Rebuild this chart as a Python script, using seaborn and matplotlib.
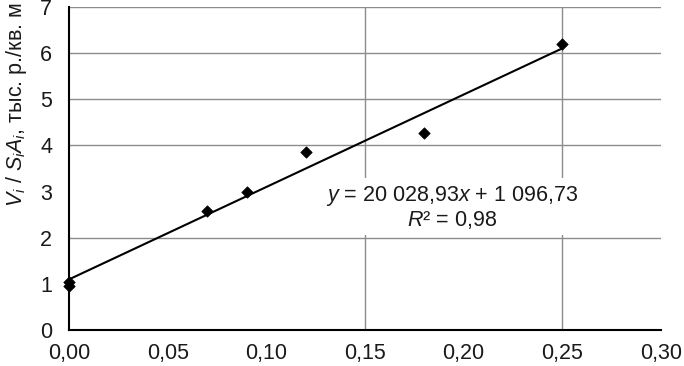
import numpy as np
import pandas as pd
import seaborn as sns
import matplotlib.pyplot as plt

#%% data
x_share = [0.0, 0.0, 0.07, 0.09, 0.12, 0.18, 0.25]
cost_per_m2 = [1.03, 0.95, 2.57, 2.99, 3.86, 4.28, 6.19]

# trendline as printed on the chart (thousands of roubles)
slope = 20.02893
intercept = 1.09673
trend_x = [0.0, 0.25]

x_ticks = [0.0, 0.05, 0.10, 0.15, 0.20, 0.25, 0.30]
x_ticklabels = ["0,00", "0,05", "0,10", "0,15", "0,20", "0,25", "0,30"]
y_ticks = [0, 1, 2, 3, 4, 5, 6, 7]
# only these grid lines survive in the original
grid_y = [2, 4, 5, 6, 7]
grid_x = [0.15, 0.25]

eq_text = r"$\it{y}$ = 20 028,93$\it{x}$ + 1 096,73"
r2_text = r"$\it{R}$² = 0,98"
ylabel = r"$\it{V_i}$ / $\it{S_iA_i}$, тыс. р./кв. м"

df = pd.DataFrame({"x": x_share, "y": cost_per_m2})
trend = pd.DataFrame({"x": trend_x, "y": [intercept + slope * v for v in trend_x]})

#%% style
sns.set_style("white")
plt.rcParams["font.family"] = ["Liberation Sans", "DejaVu Sans"]
plt.rcParams["mathtext.fontset"] = "custom"
plt.rcParams["mathtext.rm"] = "Liberation Sans"
plt.rcParams["mathtext.it"] = "Liberation Sans:italic"

FS = 15.5

fig = plt.figure(figsize=(6.84, 3.66), dpi=100)
ax = fig.add_axes([69 / 684, 1 - 330 / 366, (661 - 69) / 684, (330 - 7) / 366])

for g in grid_y:
    ax.axhline(g, color="#8c8c8c", lw=1, zorder=0)
for g in grid_x:
    ax.axvline(g, color="#8c8c8c", lw=1, zorder=0)

sns.lineplot(data=trend, x="x", y="y", ax=ax, color="black", lw=1.5, zorder=3)
sns.scatterplot(
    data=df, x="x", y="y", ax=ax,
    marker="D", s=34, color="black", edgecolor="black", linewidth=0.5,
    zorder=4, clip_on=False,
)

ax.set_xlim(0, 0.30)
ax.set_ylim(0, 7)
ax.set_xticks(x_ticks)
ax.set_xticklabels(x_ticklabels)
ax.set_yticks(y_ticks)
ax.tick_params(axis="both", labelsize=FS, length=6, width=1.3, color="black",
               direction="out", labelcolor="#1a1a1a")
ax.tick_params(axis="y", pad=6)
ax.tick_params(axis="x", pad=3.5)
for side in ["top", "right"]:
    ax.spines[side].set_visible(False)
for side in ["left", "bottom"]:
    ax.spines[side].set_color("black")
    ax.spines[side].set_linewidth(1.5)
ax.set_xlabel("")
ax.set_ylabel("")

ax.text(0.194, 2.65, eq_text + "\n" + r2_text, ha="center", va="center",
        fontsize=FS, color="#1a1a1a", linespacing=1.05, zorder=2,
        bbox=dict(facecolor="white", edgecolor="none", pad=3))

fig.text(17 / 684, 1 - 207 / 366, ylabel, rotation=90, ha="center", va="bottom",
         fontsize=FS, color="#1a1a1a")

fig.savefig("out.png", dpi=100)
